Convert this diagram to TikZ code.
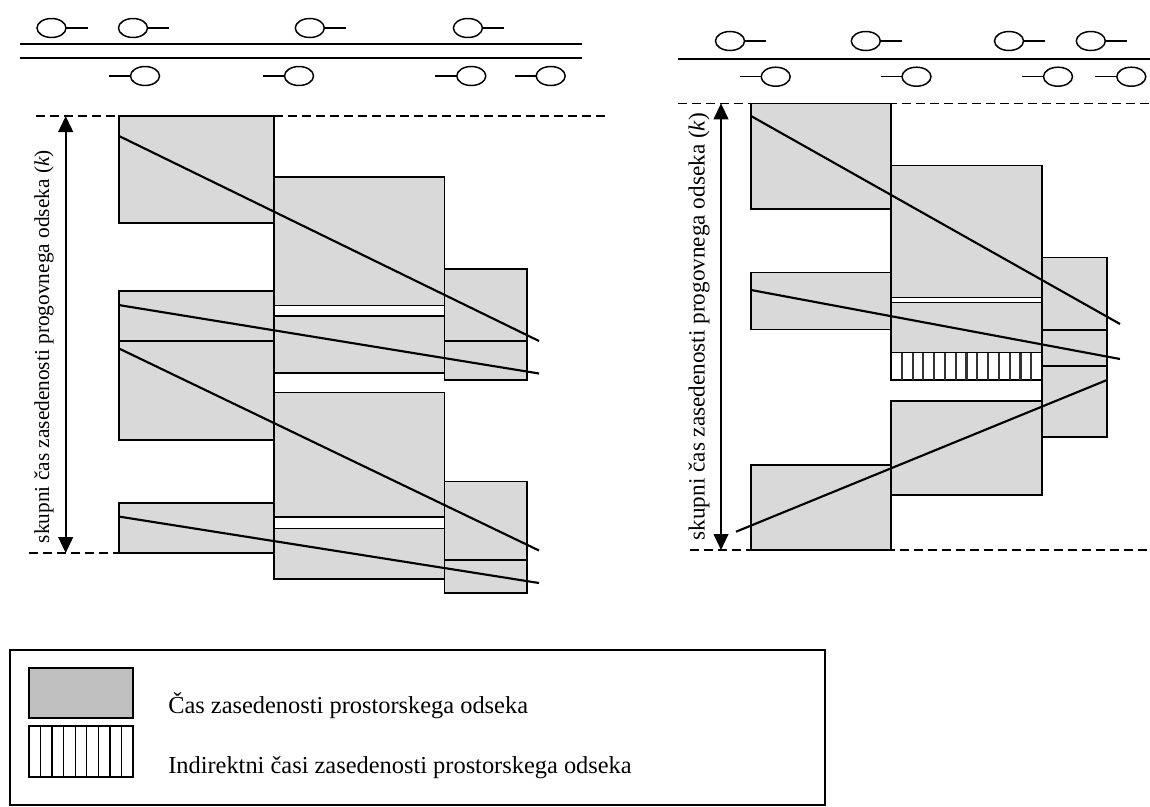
\documentclass[tikz,border=0pt]{standalone}
\usepackage{fontspec}
\setmainfont{Liberation Serif}
\usetikzlibrary{arrows.meta}
\definecolor{segfill}{HTML}{D9D9D9}
\definecolor{keyfill}{HTML}{C0C0C0}
\begin{document}
\begin{tikzpicture}[x=0.75pt,y=-0.75pt,
  seg/.style={draw=black, fill=segfill, line width=1pt},
  trainpath/.style={line width=1.6pt},
  road/.style={line width=1.2pt},
  guide/.style={dash pattern=on 6.5pt off 4pt, line width=1pt},
  car/.style={line width=1.1pt},
  spanarrow/.style={line width=1.5pt,
    {Triangle[length=12pt,width=11pt]}-{Triangle[length=12pt,width=11pt]}},
  sidelabel/.style={inner sep=0pt, rotate=90},
  keylabel/.style={font=\fontsize{18.3}{21}\selectfont, inner sep=0pt, anchor=west},
  carright/.pic={\draw[car] (0,0) ellipse [x radius=14.5, y radius=9.5];
                 \draw[car] (14.5,0) -- (36,0);},
  carleft/.pic={\draw[car] (0,0) ellipse [x radius=14.5, y radius=9.5];
                \draw[car] (-14.5,0) -- (-36,0);}
]
\useasboundingbox (0,0) rectangle (1150,807);

% ---------------- left scheme: double track ----------------
\draw[road] (20,44) -- (582,44);
\draw[road] (20,58) -- (582,58);
\foreach \cx in {51.5,133,309.8,467.9} \pic at (\cx,28) {carright};
\foreach \cx in {145,299,471.3,550.7} \pic at (\cx,76) {carleft};

\coordinate (ltop) at (65.7,116);
\coordinate (lbot) at (65.7,553);
\draw[guide] (36,116) -- (605,116);
\draw[guide] (29,553) -- (119,553);

% occupation blocks
\draw[seg] (119,116) rectangle (274,223);
\draw[seg] (119,291) rectangle (274,341);
\draw[seg] (119,341) rectangle (274,440);
\draw[seg] (119,503) rectangle (274,553);
\draw[seg] (274,177) rectangle (444.5,305.5);
\draw[seg] (274,316) rectangle (444.5,373);
\draw[seg] (274,392.5) rectangle (444.5,517);
\draw[seg] (274,528.5) rectangle (444.5,579);
\draw[seg] (444.5,269) rectangle (527,341);
\draw[seg] (444.5,341) rectangle (527,380);
\draw[seg] (444.5,481.5) rectangle (527,560);
\draw[seg] (444.5,560) rectangle (527,593);

% train paths
\draw[trainpath] (119,136) -- (539,341);
\draw[trainpath] (118.5,305) -- (539,373.5);
\draw[trainpath] (119,348.5) -- (539,550.5);
\draw[trainpath] (118.5,516.5) -- (539,583);

\draw[spanarrow] (lbot) -- (ltop);
\node[sidelabel, font=\fontsize{16}{18}\selectfont] (llabel) at (44,346.5)
  {skupni čas zasedenosti progovnega odseka (\textit{k})};

% ---------------- right scheme: single track ----------------
\draw[road] (678,59) -- (1150,59);
\foreach \cx in {730,865.8,1009,1090.8} \pic at (\cx,41) {carright};
\foreach \cx in {775.7,916.5,1058,1131.3} \pic at (\cx,76.7) {carleft};

\coordinate (rtop) at (721,103.3);
\coordinate (rbot) at (721,550);
\draw[guide] (678,103.3) -- (1150,103.3);
\draw[guide] (690,550) -- (1150,550);

\draw[seg] (751,103.3) rectangle (891,209);
\draw[seg] (751,272.3) rectangle (891,329.3);
\draw[seg] (751,465) rectangle (891,550);
\draw[seg] (891,165.7) rectangle (1042,297.3);
\draw[seg] (891,302.7) rectangle (1042,352.7);
\draw[seg] (891,401) rectangle (1042,495);
\draw[seg] (1042,257.7) rectangle (1107,330);
\draw[seg] (1042,330) rectangle (1107,366);
\draw[seg] (1042,366) rectangle (1107,437);

% indirect occupation
\draw[fill=white, line width=1pt] (891,352.7) rectangle (1042,380);
\foreach \i in {1,...,13}
  \draw[line width=1.6pt, draw=black!80] ({891+\i*151/14},352.7) -- ({891+\i*151/14},380);

\draw[trainpath] (751,116) -- (1120,324);
\draw[trainpath] (751,290) -- (1120,359);
\draw[trainpath] (736,531.7) -- (1107,380);

\draw[spanarrow] (rbot) -- (rtop);
\node[sidelabel, font=\fontsize{17.4}{19}\selectfont] (rlabel) at (699,326.5)
  {skupni čas zasedenosti progovnega odseka (\textit{k})};

% ---------------- key ----------------
\draw[line width=1pt] (10,650) rectangle (825,805);
\draw[fill=keyfill, line width=1pt] (29,668) rectangle (133,718);
\node[keylabel] (keyocc) at (168,706) {Čas zasedenosti prostorskega odseka};
\draw[fill=white, line width=1pt] (29,726) rectangle (133,777);
\foreach \i in {1,...,8}
  \draw[line width=1pt] ({29+\i*104/9},726) -- ({29+\i*104/9},777);
\node[keylabel] (keyind) at (168,768) {Indirektni časi zasedenosti prostorskega odseka};
\end{tikzpicture}
\end{document}
